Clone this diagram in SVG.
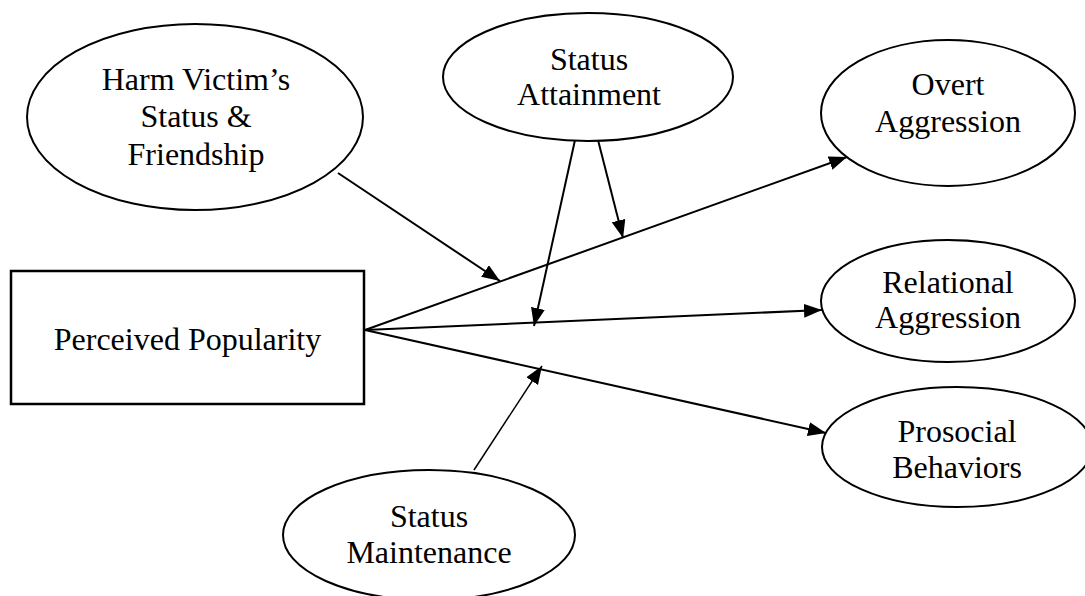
<svg xmlns="http://www.w3.org/2000/svg" width="1085" height="596" viewBox="0 0 1085 596">
  <style>
    .shape { fill: #ffffff; stroke: #000000; stroke-width: 2; }
    .box { fill: #ffffff; stroke: #000000; stroke-width: 2.5; }
    .label { font-family: "Liberation Serif", "Times New Roman", serif; font-size: 32px; fill: #000000; text-anchor: middle; }
    .link { stroke: #000000; stroke-width: 2; fill: none; marker-end: url(#arrow); }
    .thin { stroke-width: 1.5; }
  </style>
  <defs>
    <marker id="arrow" markerUnits="userSpaceOnUse" markerWidth="20" markerHeight="16" refX="18" refY="7" orient="auto">
      <path d="M0,0 L18,7 L0,14 z" fill="#000000"/>
    </marker>
  </defs>

  <g id="connectors">
    <!-- outcomes of perceived popularity -->
    <line class="link" x1="365" y1="330" x2="847" y2="157"/>
    <line class="link" x1="365" y1="330" x2="822" y2="310"/>
    <line class="link" x1="365" y1="330" x2="826" y2="433"/>
    <!-- moderators -->
    <line class="link" x1="338" y1="173" x2="500" y2="281"/>
    <line class="link" x1="575" y1="140" x2="534" y2="326"/>
    <line class="link" x1="598" y1="140" x2="623" y2="238"/>
    <line class="link thin" x1="474" y1="470" x2="542" y2="366"/>
  </g>

  <g id="harm-victim">
    <ellipse class="shape" cx="195" cy="117" rx="168" ry="93"/>
    <text class="label" x="196" y="90">Harm Victim’s</text>
    <text class="label" x="196" y="127">Status &amp;</text>
    <text class="label" x="196" y="165">Friendship</text>
  </g>

  <g id="status-attainment">
    <ellipse class="shape" cx="588" cy="77" rx="145" ry="64"/>
    <text class="label" x="589" y="70">Status</text>
    <text class="label" x="589" y="105">Attainment</text>
  </g>

  <g id="overt-aggression">
    <ellipse class="shape" cx="948" cy="113" rx="127" ry="73"/>
    <text class="label" x="948" y="95">Overt</text>
    <text class="label" x="948" y="132">Aggression</text>
  </g>

  <g id="perceived-popularity">
    <rect class="box" x="11" y="271" width="353" height="133"/>
    <text class="label" x="187.5" y="350">Perceived Popularity</text>
  </g>

  <g id="relational-aggression">
    <ellipse class="shape" cx="948" cy="301" rx="127" ry="61"/>
    <text class="label" x="948" y="293">Relational</text>
    <text class="label" x="948" y="328">Aggression</text>
  </g>

  <g id="prosocial-behaviors">
    <ellipse class="shape" cx="957" cy="447" rx="135" ry="60"/>
    <text class="label" x="957" y="442">Prosocial</text>
    <text class="label" x="957" y="478">Behaviors</text>
  </g>

  <g id="status-maintenance">
    <ellipse class="shape" cx="429" cy="535" rx="146" ry="65"/>
    <text class="label" x="429" y="527">Status</text>
    <text class="label" x="429" y="563">Maintenance</text>
  </g>
</svg>
